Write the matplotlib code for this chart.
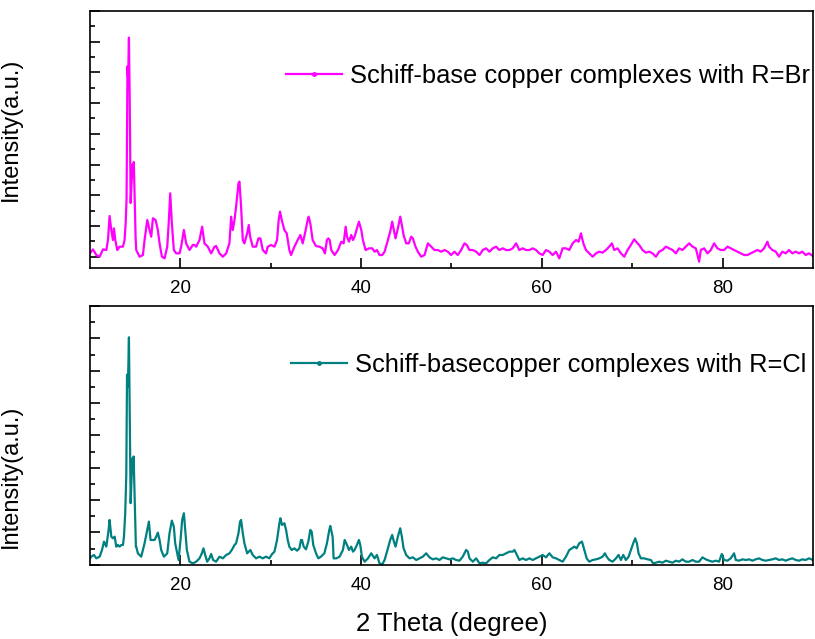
import matplotlib
matplotlib.use("Agg")
import matplotlib.pyplot as plt
from matplotlib.lines import Line2D
from matplotlib.ticker import MultipleLocator, FixedLocator, NullFormatter

plt.rcParams['font.family'] = ['Liberation Sans', 'DejaVu Sans']

# XRD pattern, R = Br (top panel)
theta_br = [10.00, 10.33, 10.70, 11.07, 11.44, 11.81, 11.99, 12.17, 12.36, 12.54, 12.65, 12.80,
            13.02, 13.28, 13.65, 13.83, 13.95, 14.05, 14.15, 14.22, 14.31, 14.40, 14.50, 14.60,
            14.72, 14.78, 14.85, 14.95, 15.05, 15.12, 15.49, 15.86, 16.04, 16.34, 16.59, 16.78,
            16.96, 17.26, 17.51, 17.70, 17.96, 18.25, 18.55, 18.73, 18.88, 19.06, 19.28, 19.54,
            19.91, 20.09, 20.39, 20.64, 21.01, 21.38, 21.57, 21.75, 22.12, 22.41, 22.67, 23.04,
            23.41, 23.78, 23.96, 24.33, 24.70, 25.07, 25.43, 25.62, 25.80, 25.99, 26.17, 26.43,
            26.54, 26.72, 26.91, 27.09, 27.39, 27.57, 27.72, 28.01, 28.38, 28.64, 28.86, 29.12,
            29.48, 29.67, 30.04, 30.41, 30.70, 30.88, 31.03, 31.22, 31.51, 31.77, 32.06, 32.25,
            32.62, 32.98, 33.28, 33.54, 33.79, 34.09, 34.20, 34.38, 34.64, 35.01, 35.38, 35.75,
            36.00, 36.22, 36.37, 36.52, 36.70, 37.07, 37.44, 37.81, 38.07, 38.29, 38.44, 38.66,
            38.91, 39.10, 39.28, 39.54, 39.76, 40.02, 40.20, 40.50, 40.87, 41.23, 41.49, 41.75,
            42.04, 42.34, 42.60, 42.97, 43.22, 43.44, 43.63, 43.81, 44.07, 44.33, 44.51, 44.70,
            44.99, 45.28, 45.54, 45.73, 46.02, 46.28, 46.65, 47.02, 47.39, 47.75, 48.12, 48.49,
            48.86, 49.23, 49.60, 49.96, 50.33, 50.70, 51.07, 51.44, 51.70, 51.99, 52.36, 52.73,
            53.10, 53.46, 53.83, 54.20, 54.57, 54.94, 55.30, 55.67, 56.04, 56.41, 56.78, 57.15,
            57.51, 57.88, 58.25, 58.62, 58.99, 59.36, 59.72, 60.09, 60.46, 60.83, 61.20, 61.57,
            61.93, 62.30, 62.67, 63.04, 63.41, 63.78, 64.07, 64.33, 64.59, 64.88, 65.25, 65.62,
            65.99, 66.35, 66.72, 67.09, 67.46, 67.75, 68.01, 68.38, 68.75, 69.12, 69.49, 69.85,
            70.22, 70.52, 70.77, 71.14, 71.51, 71.88, 72.25, 72.62, 72.98, 73.35, 73.72, 74.09,
            74.46, 74.83, 75.19, 75.56, 75.93, 76.30, 76.67, 77.04, 77.40, 77.59, 77.96, 78.33,
            78.70, 79.06, 79.43, 79.80, 80.17, 80.54, 80.90, 81.27, 81.64, 82.01, 82.38, 82.75,
            83.11, 83.48, 83.85, 84.22, 84.59, 84.96, 85.14, 85.51, 85.88, 86.25, 86.61, 86.98,
            87.35, 87.72, 88.09, 88.46, 88.82, 89.19, 89.56, 90.00]
int_br = [110, 239, 54, 0, 239, 217, 543, 1325, 869, 543, 923, 543,
          217, 326, 326, 543, 1100, 1900, 6200, 5800, 7134, 5000, 1749, 2400,
          3000, 2650, 3084, 1800, 600, 217, 0, 54, 543, 1195, 869, 652,
          1249, 1195, 869, 434, 0, -54, 326, 1195, 2063, 1086, 217, 109,
          109, 326, 869, 434, 217, 380, 380, 326, 543, 978, 434, 326,
          109, 326, 347, 109, 0, 109, 434, 1303, 869, 1195, 1629, 2389,
          2444, 1629, 543, 434, 760, 1032, 652, 326, 326, 597, 597, 217,
          109, 326, 380, 326, 543, 1195, 1466, 1195, 869, 760, 217, 54,
          326, 543, 706, 434, 760, 1195, 1303, 1086, 543, 347, 326, 271,
          109, 543, 597, 543, 217, 54, 217, 489, 435, 978, 652, 489,
          706, 543, 652, 923, 1141, 869, 543, 217, 272, 272, 163, 217,
          54, 54, 163, 543, 815, 1141, 869, 597, 923, 1303, 1032, 706,
          435, 435, 652, 597, 326, 163, 0, 54, 435, 326, 217, 217,
          163, 217, 163, 54, 163, 54, 217, 435, 380, 217, 217, 163,
          54, 217, 272, 163, 272, 326, 217, 272, 217, 217, 272, 435,
          217, 272, 217, 217, 272, 217, 109, 54, 217, 163, 54, 163,
          -54, 272, 272, 218, 435, 544, 489, 761, 435, 218, 109, 1,
          109, 164, 131, 218, 327, 435, 218, 272, 109, 1, 218, 381,
          565, 457, 381, 218, 131, 164, 109, 1, 164, 218, 327, 272,
          218, 109, 272, 218, 327, 435, 327, 272, -162, 218, 272, 109,
          218, 435, 272, 218, 218, 327, 272, 218, 164, 109, 55, 55,
          109, 164, 218, 164, 272, 489, 327, 218, 164, 1, 164, 109,
          218, 109, 164, 109, 164, 55, 109, 22]

# XRD pattern, R = Cl (bottom panel)
theta_cl = [10.00, 10.15, 10.44, 10.70, 11.07, 11.33, 11.55, 11.81, 12.06, 12.17, 12.36, 12.54,
            12.73, 12.91, 13.10, 13.28, 13.46, 13.65, 13.76, 13.90, 14.02, 14.10, 14.20, 14.31,
            14.40, 14.50, 14.62, 14.72, 14.77, 14.83, 14.95, 15.08, 15.12, 15.30, 15.67, 16.04,
            16.34, 16.52, 16.70, 16.96, 17.15, 17.33, 17.51, 17.70, 17.88, 18.18, 18.55, 18.80,
            19.06, 19.28, 19.43, 19.65, 19.80, 20.02, 20.20, 20.39, 20.54, 20.72, 21.01, 21.38,
            21.75, 22.12, 22.38, 22.56, 22.75, 22.97, 23.22, 23.41, 23.63, 23.96, 24.33, 24.70,
            25.07, 25.43, 25.69, 25.99, 26.17, 26.43, 26.61, 26.72, 26.91, 27.09, 27.39, 27.75,
            28.01, 28.38, 28.75, 29.12, 29.48, 29.85, 30.15, 30.41, 30.70, 30.96, 31.07, 31.25,
            31.51, 31.70, 31.88, 32.06, 32.32, 32.62, 32.91, 33.17, 33.35, 33.46, 33.65, 33.90,
            34.16, 34.38, 34.53, 34.71, 35.01, 35.27, 35.56, 35.93, 36.22, 36.48, 36.59, 36.85,
            36.96, 37.26, 37.62, 37.99, 38.18, 38.44, 38.66, 38.91, 39.10, 39.28, 39.54, 39.76,
            39.91, 40.09, 40.39, 40.76, 41.12, 41.49, 41.75, 42.04, 42.34, 42.60, 42.97, 43.22,
            43.44, 43.63, 43.81, 44.07, 44.33, 44.51, 44.70, 44.99, 45.36, 45.73, 46.10, 46.46,
            46.83, 47.20, 47.57, 47.94, 48.31, 48.67, 49.04, 49.41, 49.78, 50.15, 50.52, 50.88,
            51.25, 51.62, 51.81, 51.99, 52.36, 52.73, 53.10, 53.46, 53.83, 54.20, 54.57, 54.94,
            55.30, 55.67, 56.04, 56.41, 56.78, 56.96, 57.15, 57.51, 57.88, 58.25, 58.62, 58.99,
            59.36, 59.72, 60.09, 60.46, 60.83, 61.20, 61.57, 61.93, 62.30, 62.67, 63.04, 63.33,
            63.59, 63.85, 64.14, 64.44, 64.70, 64.96, 65.25, 65.62, 65.99, 66.35, 66.72, 66.98,
            67.17, 67.46, 67.83, 68.20, 68.49, 68.75, 69.01, 69.30, 69.60, 69.85, 70.11, 70.33,
            70.52, 70.70, 70.96, 71.33, 71.70, 72.06, 72.32, 72.62, 72.98, 73.35, 73.72, 74.09,
            74.46, 74.83, 75.19, 75.56, 75.93, 76.30, 76.67, 77.04, 77.40, 77.77, 78.14, 78.51,
            78.88, 79.25, 79.61, 79.91, 80.17, 80.54, 80.90, 81.27, 81.46, 81.82, 82.19, 82.56,
            82.93, 83.30, 83.67, 84.03, 84.40, 84.77, 85.14, 85.51, 85.88, 86.24, 86.61, 86.98,
            87.35, 87.72, 88.09, 88.46, 88.82, 89.19, 89.56, 90.00]
int_cl = [200, 248, 299, 196, 248, 454, 713, 558, 1074, 1384, 867, 816,
          867, 558, 609, 558, 609, 609, 867, 1590, 2800, 5877, 5500, 7032,
          4500, 1902, 2800, 3300, 2900, 3346, 2000, 558, 558, 351, 248, 661,
          1074, 1332, 764, 764, 764, 867, 991, 764, 454, 248, 351, 971,
          1363, 1177, 661, 351, 144, 764, 1384, 1590, 1074, 454, 93, 41,
          93, 196, 351, 506, 299, 93, 196, 330, 144, 93, 248, 196,
          299, 351, 454, 609, 661, 971, 1332, 1384, 971, 661, 351, 454,
          299, 196, 248, 196, 248, 196, 330, 402, 764, 1281, 1436, 1229,
          1281, 1074, 764, 558, 454, 506, 433, 506, 764, 764, 558, 475,
          712, 1074, 1022, 609, 351, 196, 248, 351, 661, 1074, 1198, 867,
          196, 196, 248, 455, 765, 610, 455, 558, 403, 455, 610, 765,
          610, 248, 93, 196, 352, 196, 300, 42, 10, 145, 506, 765,
          920, 713, 558, 868, 1126, 868, 506, 300, 196, 227, 145, 196,
          248, 352, 227, 165, 196, 145, 227, 196, 165, 196, 145, 124,
          248, 455, 403, 196, 93, 196, 42, 62, 42, 145, 227, 196,
          300, 300, 352, 403, 403, 455, 352, 145, 196, 145, 196, 145,
          196, 248, 300, 227, 352, 227, 196, 145, 93, 248, 455, 506,
          558, 506, 661, 713, 455, 196, 93, 145, 165, 196, 248, 352,
          248, 145, 93, 196, 300, 145, 300, 145, 248, 455, 661, 816,
          661, 352, 196, 196, 165, 145, 41, 62, 93, 62, 124, 93,
          62, 124, 93, 165, 93, 93, 145, 93, 93, 227, 165, 124,
          93, 124, 93, 331, 145, 124, 196, 352, 145, 124, 165, 145,
          165, 124, 165, 196, 145, 124, 145, 165, 196, 145, 165, 124,
          165, 196, 145, 124, 165, 145, 196, 145]

label_br = 'Schiff-base copper complexes with R=Br'
label_cl = 'Schiff-basecopper complexes with R=Cl'

fig = plt.figure(figsize=(8.15, 6.39), dpi=100)
ax1 = fig.add_axes([0.1104, 0.5806, 0.8871, 0.4022])
ax2 = fig.add_axes([0.1104, 0.1163, 0.8871, 0.4048])

panels = [
    (ax1, theta_br, int_br, '#FF00FF', label_br, (-368, 8000), (0.271, 0.747), 0.541),
    (ax2, theta_cl, int_cl, '#008080', label_cl, (0, 8000), (0.278, 0.772), 0.343),
]

for ax, x, y, color, label, ylim, leg_pos, ylab_y in panels:
    ax.plot(x, y, color=color, lw=1.6)
    ax.set_xlim(10, 90)
    ax.set_ylim(*ylim)
    ax.xaxis.set_major_locator(FixedLocator([20, 40, 60, 80]))
    ax.xaxis.set_minor_locator(FixedLocator([30, 50, 70]))
    ax.yaxis.set_major_locator(MultipleLocator(1000))
    ax.yaxis.set_minor_locator(MultipleLocator(500))
    ax.yaxis.set_major_formatter(NullFormatter())
    ax.tick_params(which='both', direction='in', top=False, right=False, width=1.2)
    ax.tick_params(which='major', length=7, labelsize=13.5, pad=9)
    ax.tick_params(which='minor', length=3.5)
    for sp in ax.spines.values():
        sp.set_linewidth(1.2)
    ax.set_ylabel('Intensity(a.u.)', fontsize=17)
    ax.yaxis.set_label_coords(-0.094, ylab_y)
    handle = Line2D([], [], color=color, lw=1.6, marker='o', markersize=2.5)
    ax.legend([handle], [label], loc='center left', bbox_to_anchor=leg_pos,
              frameon=False, fontsize=18.4, handlelength=2.2, handletextpad=0.3,
              borderpad=0, borderaxespad=0)

ax2.set_xlabel('2 Theta (degree)', fontsize=18.5, labelpad=13)

fig.savefig('out.png', dpi=100)
